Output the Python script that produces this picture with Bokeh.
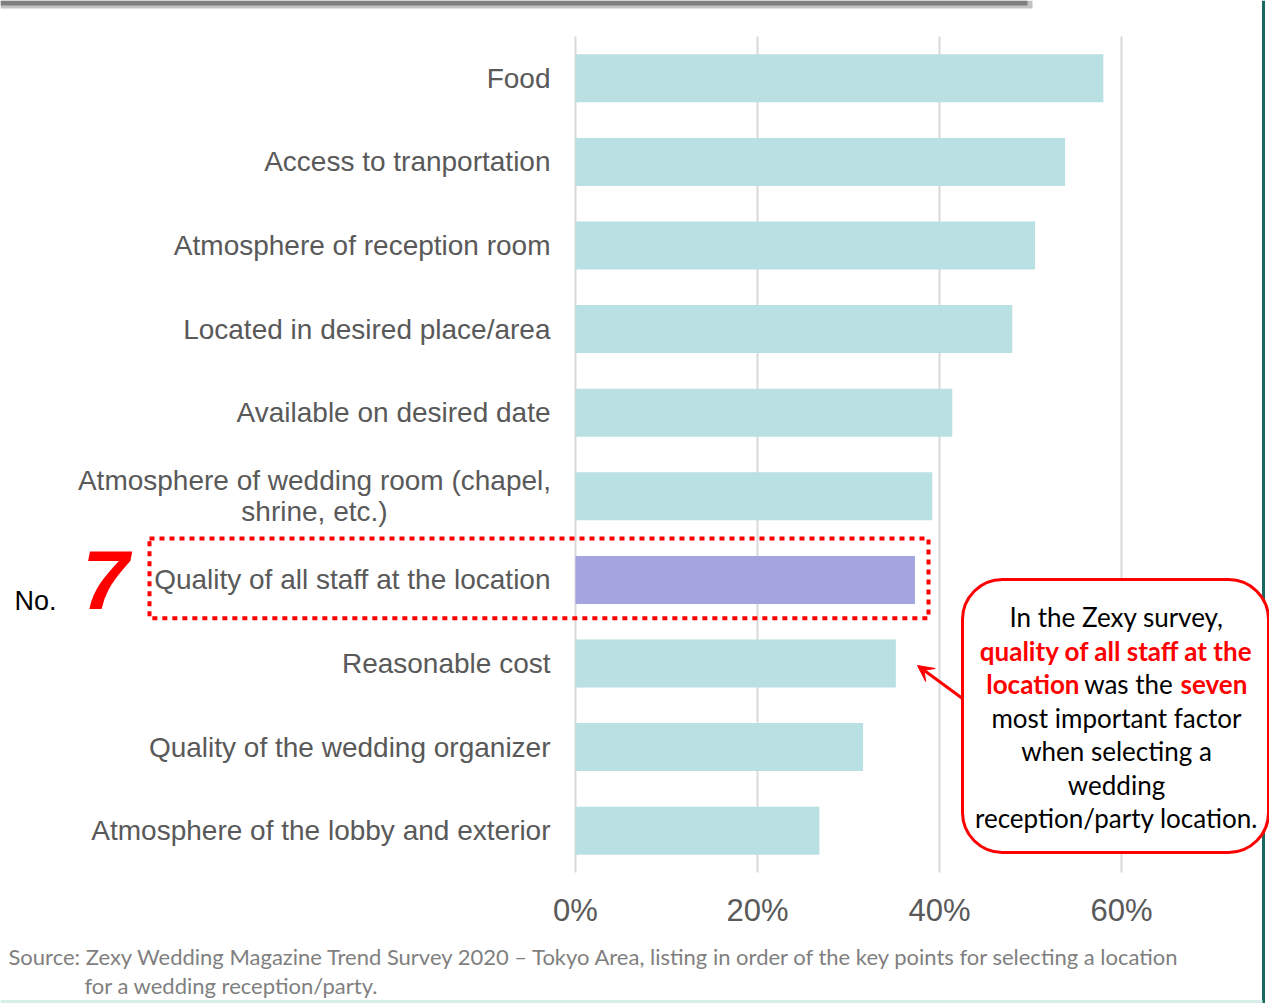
from bokeh.plotting import figure
from bokeh.models import Range1d, Arrow, VeeHead
from bokeh.core.properties import value
from bokeh.embed import file_html
from bokeh.resources import INLINE

# ---------------- data ----------------
categories = [
    "Food",
    "Access to tranportation",
    "Atmosphere of reception room",
    "Located in desired place/area",
    "Available on desired date",
    "Atmosphere of wedding room (chapel,\nshrine, etc.)",
    "Quality of all staff at the location",
    "Reasonable cost",
    "Quality of the wedding organizer",
    "Atmosphere of the lobby and exterior",
]
values = [58.0, 53.8, 50.5, 48.0, 41.4, 39.2, 37.3, 35.2, 31.6, 26.8]
tick_values = [0, 20, 40, 60]
tick_labels = ["0%", "20%", "40%", "60%"]
highlight_index = 6
rank_label = "7"
callout_lines = [
    [("In the Zexy survey,", "#000000", "normal")],
    [("quality of all staff at the", "#ff0000", "bold")],
    [("location", "#ff0000", "bold"), ("was the", "#000000", "normal"), ("seven", "#ff0000", "bold")],
    [("most important factor", "#000000", "normal")],
    [("when selecting a", "#000000", "normal")],
    [("wedding", "#000000", "normal")],
    [("reception/party location.", "#000000", "normal")],
]
source_lines = [
    "Source: Zexy Wedding Magazine Trend Survey 2020 \u2013 Tokyo Area, listing in order of the key points for selecting a location",
    "for a wedding reception/party.",
]

# ---------------- layout helpers ----------------
W, H = 1269, 1003
ZERO_PX = 575.0     # pixel of 0 %
PX_PER_PCT = 9.1
TOP_PX = 36.0       # top of first band
BAND_PX = 83.6


def px_x(px):
    return (px - ZERO_PX) / PX_PER_PCT


def px_y(py):
    return (py - TOP_PX) / BAND_PX - 0.5


p = figure(
    width=W, height=H,
    x_range=Range1d(px_x(0), px_x(W)),
    y_range=Range1d(start=px_y(H), end=px_y(0)),
    output_backend="svg", toolbar_location=None,
    min_border=0, min_border_left=0, min_border_right=0,
    min_border_top=0, min_border_bottom=0,
)
p.axis.visible = False
p.grid.visible = False
p.outline_line_color = None
p.background_fill_color = "white"
p.border_fill_color = "white"

n = len(categories)
idx = list(range(n))

# decorations (slide frame)
p.quad(left=[px_x(0)], right=[px_x(1032)], top=[px_y(0)], bottom=[px_y(8)],
       fill_color="#c3c3c3", line_color=None)
p.quad(left=[px_x(0)], right=[px_x(1027)], top=[px_y(0)], bottom=[px_y(5)],
       fill_color="#7f7f7f", line_color=None)
p.segment(x0=[px_x(1263)], x1=[px_x(1263)], y0=[px_y(0)], y1=[px_y(H)],
          line_color="#17695f", line_width=3)
p.segment(x0=[px_x(0)], x1=[px_x(1262)], y0=[px_y(1001)], y1=[px_y(1001)],
          line_color="#d6eee8", line_width=3)

# grid lines
p.segment(x0=tick_values, x1=tick_values, y0=[-0.5] * len(tick_values),
          y1=[n - 0.5] * len(tick_values), line_color="#d9d9d9", line_width=2)

# bars
colors = ["#a4a4e0" if i == highlight_index else "#b9e0e2" for i in idx]
p.hbar(y=idx, left=0, right=values, height=0.574, fill_color=colors, line_color=None)

# category labels
label_font = value("Liberation Sans")
for i, lab in enumerate(categories):
    lines = lab.split("\n")
    if len(lines) == 1:
        p.text(x=[px_x(550)], y=[i], text=[lab], text_font=label_font,
               text_font_size="28px", text_color="#595959",
               text_align="right", text_baseline="middle")
    else:
        cx = px_x(314)
        offs = [(k - (len(lines) - 1) / 2) * 31 / BAND_PX for k in range(len(lines))]
        p.text(x=[cx] * len(lines), y=[i + o for o in offs], text=lines,
               text_font=label_font, text_font_size="28px", text_color="#595959",
               text_align="center", text_baseline="middle")

# x tick labels
p.text(x=tick_values, y=[px_y(910)] * len(tick_values), text=tick_labels,
       text_font=label_font, text_font_size="31px", text_color="#595959",
       text_align="center", text_baseline="middle")

# highlight box around the 7th item
p.quad(left=[px_x(149)], right=[px_x(928)], top=[highlight_index - 0.495],
       bottom=[highlight_index + 0.46], fill_color=None, line_color="#ff0000",
       line_width=4, line_dash="5 5")

p.text(x=[px_x(14)], y=[px_y(600)], text=["No."], text_font=label_font,
       text_font_size="27px", text_color="#000000", text_align="left",
       text_baseline="middle")
p.text(x=[px_x(105)], y=[highlight_index], text=[rank_label], text_font=label_font,
       text_font_size="84px", text_font_style="bold italic", text_color="#ff0000",
       text_align="center", text_baseline="middle")

# callout
p.quad(left=[px_x(962)], right=[px_x(1268)], top=[px_y(579)], bottom=[px_y(852)],
       fill_color="white", line_color="#ff0000", line_width=3, border_radius=40)
p.add_layout(Arrow(end=VeeHead(size=16, fill_color="#ff0000", line_color="#ff0000"),
                   x_start=px_x(962), y_start=px_y(698), x_end=px_x(917), y_end=px_y(665),
                   line_color="#ff0000", line_width=3))

call_font = value("Lato")
line_ys = [616, 650, 683, 717, 750, 784, 817]
for line, ly in zip(callout_lines, line_ys):
    if len(line) == 1:
        t, c, s = line[0]
        p.text(x=[px_x(1116)], y=[px_y(ly)], text=[t], text_font=call_font,
               text_font_size="26px", text_color=c, text_font_style=s,
               text_align="center", text_baseline="middle")
    else:
        xs = [(1079, "right"), (1128, "center"), (1180, "left")]
        for (t, c, s), (xx, al) in zip(line, xs):
            p.text(x=[px_x(xx)], y=[px_y(ly)], text=[t], text_font=call_font,
                   text_font_size="26px", text_color=c, text_font_style=s,
                   text_align=al, text_baseline="middle")

# source
p.text(x=[px_x(8), px_x(84)], y=[px_y(956), px_y(985)], text=source_lines,
       text_font=call_font, text_font_size="22px", text_color="#7f7f7f",
       text_align="left", text_baseline="middle")

open("out.html", "w").write(file_html(p, INLINE))
